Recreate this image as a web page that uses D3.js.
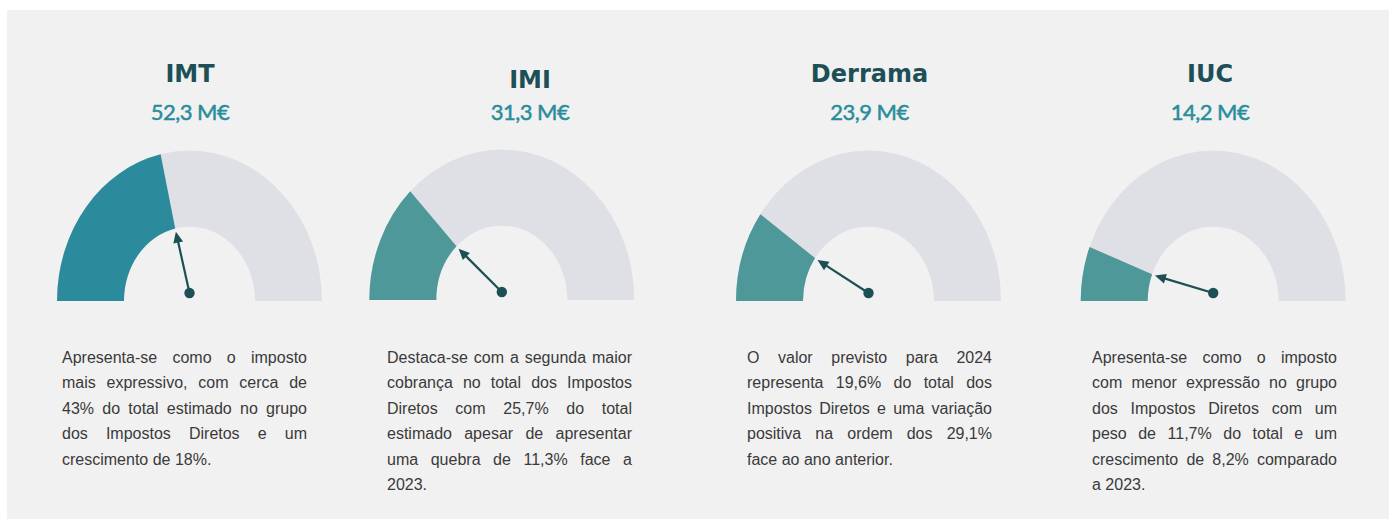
<!DOCTYPE html>
<html>
<head>
<meta charset="utf-8">
<script src="https://cdn.jsdelivr.net/npm/d3@7/dist/d3.min.js"></script>
<style>
  html, body { margin: 0; padding: 0; background: #ffffff; }
  svg { display: block; }
</style>
</head>
<body>
<svg id="chart" width="1393" height="519"></svg>
<script>
// ---- data ----
const taxes = ["IMT", "IMI", "Derrama", "IUC"];
const amountLabels = ["52,3 M€", "31,3 M€", "23,9 M€", "14,2 M€"];
const amounts = [52.3, 31.3, 23.9, 14.2];
const sharePercent = [43, 25.7, 19.6, 11.7];
const descIMT = [
  "Apresenta-se como o imposto",
  "mais expressivo, com cerca de",
  "43% do total estimado no grupo",
  "dos Impostos Diretos e um",
  "crescimento de 18%."
];
const descIMI = [
  "Destaca-se com a segunda maior",
  "cobrança no total dos Impostos",
  "Diretos com 25,7% do total",
  "estimado apesar de apresentar",
  "uma quebra de 11,3% face a",
  "2023."
];
const descDerrama = [
  "O valor previsto para 2024",
  "representa 19,6% do total dos",
  "Impostos Diretos e uma variação",
  "positiva na ordem dos 29,1%",
  "face ao ano anterior."
];
const descIUC = [
  "Apresenta-se como o imposto",
  "com menor expressão no grupo",
  "dos Impostos Diretos com um",
  "peso de 11,7% do total e um",
  "crescimento de 8,2% comparado",
  "a 2023."
];
const descriptions = [descIMT, descIMI, descDerrama, descIUC];

// ---- layout ----
const gaugeCx = [189.5, 501.8, 868.5, 1213.2];
const gaugeBase = [301, 300, 301, 301];
const titleCx = [190, 530, 869.5, 1210];
const titleBaseline = [82, 88, 82, 82];
const textX = [62, 387, 747, 1092];
const fillColors = ["#2b8a9b", "#4e989a", "#4e989a", "#4e989a"];
const outerR = 132.5, innerR = 65.5, sy = 1.135;
const textW = 245, lineH = 25.4, textY0 = 363;

const svg = d3.select("#chart");
svg.append("rect").attr("x", 7).attr("y", 10).attr("width", 1382).attr("height", 512)
  .attr("fill", "#f1f1f1");

const angle = d3.scaleLinear().domain([0, 100]).range([-Math.PI / 2, Math.PI / 2]);
const arc = d3.arc().innerRadius(innerR).outerRadius(outerR);

taxes.forEach((t, i) => {
  const cx = gaugeCx[i], base = gaugeBase[i];
  const g = svg.append("g");

  // titles
  g.append("text").attr("x", titleCx[i]).attr("y", titleBaseline[i])
    .attr("text-anchor", "middle")
    .style("font-family", "DejaVu Sans").style("font-weight", "bold")
    .style("font-size", "24px").attr("fill", "#1c4f56").text(t);
  g.append("text").attr("x", titleCx[i]).attr("y", 120)
    .attr("text-anchor", "middle")
    .style("font-family", "Lato").style("font-size", "22px")
    .style("letter-spacing", "-0.5px")
    .attr("fill", "#2a8d9c").attr("stroke", "#2a8d9c").attr("stroke-width", 0.5)
    .text(amountLabels[i]);

  // gauge arcs
  const ga = g.append("g").attr("transform", `translate(${cx},${base}) scale(1,${sy})`);
  ga.append("path").attr("d", arc({ startAngle: angle(0), endAngle: angle(100) }))
    .attr("fill", "#dfe0e6");
  ga.append("path").attr("d", arc({ startAngle: angle(0), endAngle: angle(sharePercent[i]) }))
    .attr("fill", fillColors[i]);

  // needle
  const a = angle(sharePercent[i]);
  const px = cx, py = base - 8;
  const tipR = innerR - 3;
  const tx = cx + tipR * Math.sin(a), ty = base - tipR * Math.cos(a) * sy;
  const dx = tx - px, dy = ty - py, len = Math.hypot(dx, dy);
  const ux = dx / len, uy = dy / len;
  const headL = 11, headW = 5;
  const bx = tx - ux * headL, by = ty - uy * headL;
  g.append("line").attr("x1", px).attr("y1", py).attr("x2", bx + ux * 2).attr("y2", by + uy * 2)
    .attr("stroke", "#1d4f56").attr("stroke-width", 2.2);
  g.append("path")
    .attr("d", `M${tx},${ty}L${bx - uy * headW},${by + ux * headW}L${bx + uy * headW},${by - ux * headW}Z`)
    .attr("fill", "#1d4f56");
  g.append("circle").attr("cx", px).attr("cy", py).attr("r", 5.2).attr("fill", "#1d4f56");

  // justified paragraph
  const lines = descriptions[i];
  lines.forEach((line, li) => {
    const words = line.split(" ");
    const txt = g.append("text").attr("y", textY0 + li * lineH)
      .style("font-family", "Liberation Sans, Arial").style("font-size", "16px")
      .attr("fill", "#3a3a3a");
    const spans = words.map(w => txt.append("tspan").text(w));
    const widths = spans.map(s => s.node().getComputedTextLength());
    const total = d3.sum(widths);
    const last = li === lines.length - 1;
    const gap = (last || words.length < 2) ? 4.45 : (textW - total) / (words.length - 1);
    let x = textX[i];
    spans.forEach((s, j) => { s.attr("x", x); x += widths[j] + gap; });
  });
});
</script>
</body>
</html>
